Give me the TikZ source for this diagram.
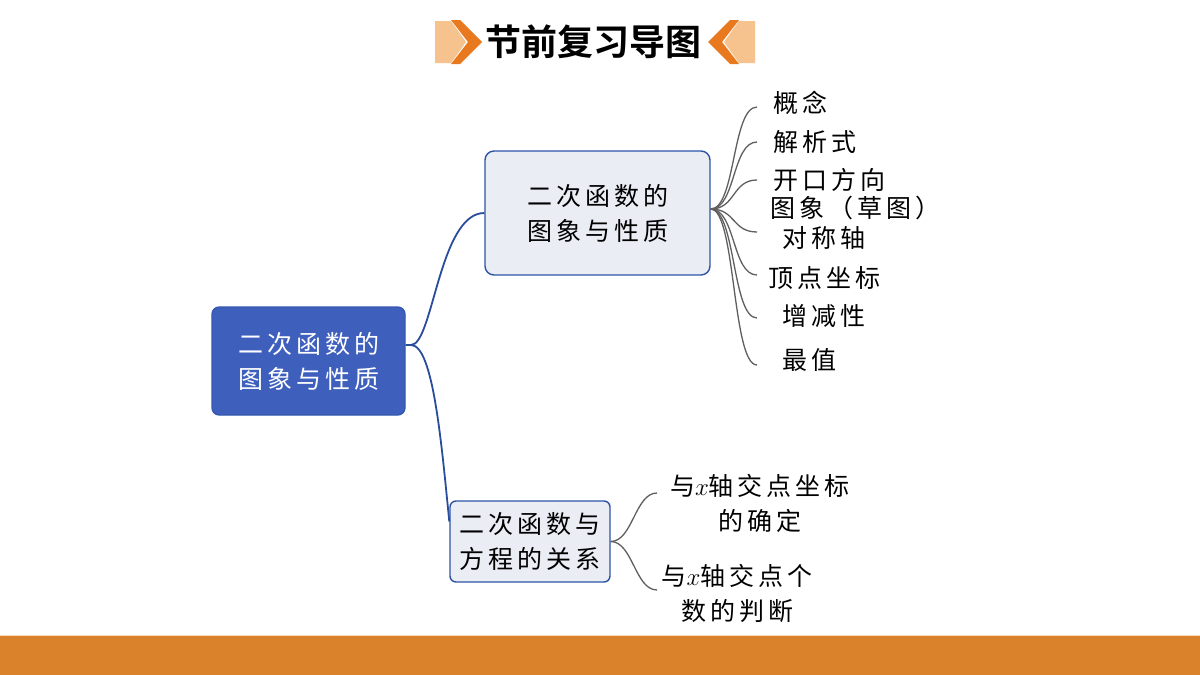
\documentclass[tikz,border=0pt]{standalone}
\usepackage{fontspec}
\newfontfamily\cjk{Noto Sans CJK SC}[LetterSpace=16]
\newfontfamily\cjktitle{Noto Sans CJK SC Bold}
\definecolor{orangeD}{HTML}{E8791E}
\definecolor{orangeL}{HTML}{F6C28E}
\definecolor{barOr}{HTML}{D9822B}
\definecolor{mainBlue}{HTML}{3F5FBD}
\definecolor{mainEdge}{HTML}{3556B0}
\definecolor{lightFill}{HTML}{EBEDF5}
\definecolor{boxEdge}{HTML}{2E54A6}
\definecolor{linkBlue}{HTML}{2A4D9B}
\definecolor{linkGray}{HTML}{5F5F5F}
\tikzset{
  txt/.style={inner sep=0pt, font=\cjk\fontsize{25}{35}\selectfont, align=center},
  mainbox/.style={txt, draw=mainEdge, line width=1.2pt, fill=mainBlue, text=white, rounded corners=7pt},
  subbox/.style={txt, draw=boxEdge, line width=1.4pt, fill=lightFill, text=black, rounded corners=9pt},
  leaf/.style={txt, anchor=west, align=left},
  bl/.style={draw=linkBlue, line width=1.8pt},
  gr/.style={draw=linkGray, line width=1.3pt},
}
\begin{document}
\begin{tikzpicture}[x=1pt,y=-1pt]
\useasboundingbox (0,0) rectangle (1200,675);
\fill[white] (0,0) rectangle (1200,675);
% bottom bar
\fill[barOr] (0,635) rectangle (1200,675);
\draw[orangeL!60, line width=1pt] (0,635.5) -- (1200,635.5);
% title chevrons
\fill[orangeL] (435,21) -- (451,21) -- (466,42) -- (451,63) -- (435,63) -- cycle;
\fill[orangeD] (451,20) -- (460,20) -- (482,42) -- (460,64) -- (451,64) -- (468,42) -- cycle;
\fill[orangeL] (755,21) -- (739,21) -- (724,42) -- (739,63) -- (755,63) -- cycle;
\fill[orangeD] (739,20) -- (730,20) -- (708,42) -- (730,64) -- (739,64) -- (722,42) -- cycle;
\node[inner sep=0pt, font=\cjktitle\fontsize{36}{36}\selectfont] (title) at (593,42) {节前复习导图};
% boxes
\node[mainbox, minimum width=193pt, minimum height=108pt] (main) at (308.5,361) {二次函数的\\图象与性质};
\node[subbox, minimum width=225pt, minimum height=124pt] (top) at (597.5,213) {二次函数的\\图象与性质};
\node[subbox, rounded corners=6pt, minimum width=160pt, minimum height=81pt] (bot) at (530,541.5) {二次函数与\\方程的关系};
% main connectors
\coordinate (m0) at (411,345);
\draw[bl] (main.east |- m0) -- (m0) .. controls +(22,0) and +(-45,0) .. (top.west);
\draw[bl] (m0) .. controls +(22,0) and +(-8,-80) .. ([yshift=20pt]bot.west);
% leaves of top box
\node[leaf] (l1) at (773,103) {概念};
\node[leaf] (l2) at (773,142) {解析式};
\node[leaf] (l3) at (773,180) {开口方向};
\node[leaf] (l4) at (770,208) {图象（草图）};
\node[leaf] (l5) at (782,238) {对称轴};
\node[leaf] (l6) at (768,278) {顶点坐标};
\node[leaf] (l7) at (782,316) {增减性};
\node[leaf] (l8) at (782,360) {最值};
\coordinate (f0) at ([yshift=4pt]top.east);
\coordinate (e1) at (757,107);
\coordinate (e2) at (757,142);
\coordinate (e3) at (757,180);
\coordinate (e5) at (757,232);
\coordinate (e6) at (757,275);
\coordinate (e7) at (757,318);
\coordinate (e8) at (757,365);
\foreach \e in {e1,e2,e3,e5,e6,e7,e8}{
  \draw[gr] (f0) .. controls +(25,0) and +(-25,0) .. (\e);
}
% leaves of bottom box
\node[txt] (b1) at (760,503) {与$x$轴交点坐标\\的确定};
\node[txt] (b2) at (737,593) {与$x$轴交点个\\数的判断};
\coordinate (g1) at (657,493);
\coordinate (g2) at (657,590);
\draw[gr] (bot.east) .. controls +(22,0) and +(-22,0) .. (g1);
\draw[gr] (bot.east) .. controls +(22,0) and +(-22,0) .. (g2);
\end{tikzpicture}
\end{document}
